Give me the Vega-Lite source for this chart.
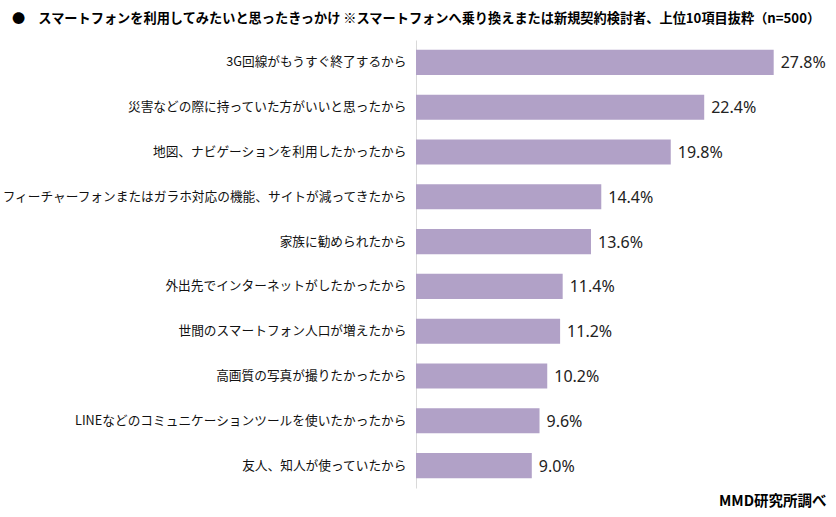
{
  "$schema": "https://vega.github.io/schema/vega-lite/v6.json",
  "autosize": {"type": "none"},
  "width": 386,
  "height": 448,
  "padding": {"left": 416, "top": 40, "right": 34, "bottom": 29},
  "background": "white",
  "title": {
    "text": "●　スマートフォンを利用してみたいと思ったきっかけ ※スマートフォンへ乗り換えまたは新規契約検討者、上位10項目抜粋（n=500）",
    "anchor": "start",
    "frame": "group",
    "dx": -404,
    "offset": 14,
    "limit": 830,
    "font": "Noto Sans CJK JP",
    "fontSize": 13.2,
    "fontWeight": "bold",
    "color": "#000000"
  },
  "config": {"view": {"stroke": null}, "font": "Noto Sans CJK JP"},
  "data": {
    "values": [
      {"reason": "3G回線がもうすぐ終了するから", "pct": 27.8, "label": "27.8%"},
      {"reason": "災害などの際に持っていた方がいいと思ったから", "pct": 22.4, "label": "22.4%"},
      {"reason": "地図、ナビゲーションを利用したかったから", "pct": 19.8, "label": "19.8%"},
      {"reason": "フィーチャーフォンまたはガラホ対応の機能、サイトが減ってきたから", "pct": 14.4, "label": "14.4%"},
      {"reason": "家族に勧められたから", "pct": 13.6, "label": "13.6%"},
      {"reason": "外出先でインターネットがしたかったから", "pct": 11.4, "label": "11.4%"},
      {"reason": "世間のスマートフォン人口が増えたから", "pct": 11.2, "label": "11.2%"},
      {"reason": "高画質の写真が撮りたかったから", "pct": 10.2, "label": "10.2%"},
      {"reason": "LINEなどのコミュニケーションツールを使いたかったから", "pct": 9.6, "label": "9.6%"},
      {"reason": "友人、知人が使っていたから", "pct": 9.0, "label": "9.0%"}
    ]
  },
  "encoding": {
    "y": {
      "field": "reason",
      "type": "nominal",
      "sort": null,
      "scale": {"paddingInner": 0.44, "paddingOuter": 0.22},
      "axis": {
        "title": null,
        "domainColor": "#d9d9d9",
        "domainWidth": 1,
        "ticks": false,
        "labelPadding": 10,
        "labelLimit": 420,
        "labelFont": "Noto Sans CJK JP",
        "labelFontSize": 12.7,
        "labelColor": "#111111"
      }
    },
    "x": {
      "field": "pct",
      "type": "quantitative",
      "scale": {"domain": [0, 30], "nice": false},
      "axis": {
        "domain": false,
        "ticks": false,
        "labels": false,
        "grid": false,
        "title": "MMD研究所調べ",
        "titleAnchor": "end",
        "titleAlign": "right",
        "titleX": 410,
        "titleY": 17,
        "titleBaseline": "alphabetic",
        "titleFont": "Noto Sans CJK JP",
        "titleFontSize": 14.5,
        "titleFontWeight": "bold",
        "titleColor": "#000000"
      }
    }
  },
  "layer": [
    {"mark": {"type": "bar", "color": "#b1a1c7"}},
    {
      "mark": {"type": "text", "align": "left", "baseline": "middle", "dx": 7, "dy": 1, "fontSize": 16, "color": "#222222", "font": "Noto Sans"},
      "encoding": {"text": {"field": "label", "type": "nominal"}}
    }
  ]
}
